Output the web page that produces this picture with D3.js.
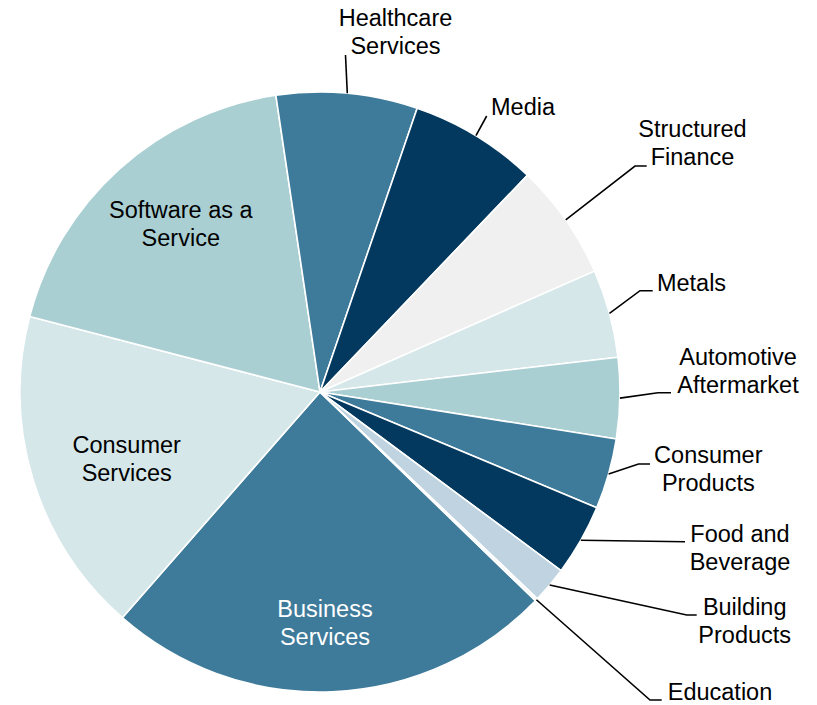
<!DOCTYPE html>
<html>
<head>
<meta charset="utf-8">
<script src="https://cdn.jsdelivr.net/npm/d3@7"></script>
<style>
  html, body { margin: 0; padding: 0; background: #fff; }
  svg { display: block; font-family: "Liberation Sans", Arial, sans-serif; }
</style>
</head>
<body>
<svg id="chart"></svg>
<script>
// sectors, in the order they run clockwise from the start angle
const sectors = [
  "Business Services", "Consumer Services", "Software as a Service",
  "Healthcare Services", "Media", "Structured Finance", "Metals",
  "Automotive Aftermarket", "Consumer Products", "Food and Beverage",
  "Building Products", "Education"
];
const shares = [24.2, 17.6, 18.6, 7.6, 6.9, 6.25, 4.75, 4.35, 3.8, 3.85, 1.95, 0.15];

const palette = [
  "#3E7A99", "#D5E7E9", "#AACFD3", "#3E7A99", "#03395E", "#F0F0F0",
  "#D5E7E9", "#AACFD3", "#3E7A99", "#03395E", "#BFD4E0", "#F4F7F9"
];

// label layout: inside labels have no leader; outside ones have an elbow
const labelLayout = {
  "Business Services":     { x: 325, y: 616.7, inside: true, fill: "#fff" },
  "Consumer Services":     { x: 126.7, y: 453.3, inside: true },
  "Software as a Service": { x: 180.8, y: 218.3, inside: true, lines: ["Software as a", "Service"] },
  "Healthcare Services":   { x: 395.5, y: 26, end: [345.5, 55] },
  "Media":                 { x: 523, y: 115, end: [486.7, 116] },
  "Structured Finance":    { x: 692.5, y: 136.7, elbow: [635, 166], end: [646.7, 166] },
  "Metals":                { x: 691.5, y: 290.7, elbow: [640, 290.7], end: [652.7, 290.7] },
  "Automotive Aftermarket":{ x: 738, y: 365, elbow: [658, 392.7], end: [671, 392.7] },
  "Consumer Products":     { x: 708.3, y: 463.3, elbow: [638.5, 464], end: [650, 464] },
  "Food and Beverage":     { x: 740, y: 541.7, end: [685, 541.7], lines: ["Food and", "Beverage"] },
  "Building Products":     { x: 744.7, y: 615, elbow: [686.7, 615], end: [696.7, 615] },
  "Education":             { x: 720, y: 700, elbow: [650, 700], end: [661.7, 700] }
};

const width = 817, height = 705;
const cx = 320, cy = 392, radius = 300;
const lineHeight = 28;

const data = sectors.map((name, i) => ({ name, value: shares[i], color: palette[i] }));

const svg = d3.select("#chart").attr("width", width).attr("height", height);

const start = 134.1 * Math.PI / 180;
const pie = d3.pie().sort(null).value(d => d.value)
  .startAngle(start).endAngle(start + 2 * Math.PI);
const arcs = pie(data);

const arc = d3.arc().innerRadius(0).outerRadius(radius);
const edge = d3.arc().innerRadius(radius).outerRadius(radius);

const g = svg.append("g").attr("transform", `translate(${cx}, ${cy})`);

g.selectAll("path.slice")
  .data(arcs)
  .join("path")
  .attr("class", "slice")
  .attr("d", arc)
  .attr("fill", d => d.data.color)
  .attr("stroke", "#fff")
  .attr("stroke-width", 1.6)
  .attr("stroke-linejoin", "round");

// leader lines
const leaders = arcs.filter(d => !labelLayout[d.data.name].inside);
svg.append("g")
  .selectAll("polyline")
  .data(leaders)
  .join("polyline")
  .attr("points", d => {
    const l = labelLayout[d.data.name];
    const [sx, sy] = edge.centroid(d);
    const pts = [[cx + sx, cy + sy]];
    if (l.elbow) pts.push(l.elbow);
    pts.push(l.end);
    return pts.map(p => p.join(",")).join(" ");
  })
  .attr("fill", "none")
  .attr("stroke", "#000")
  .attr("stroke-width", 1.6);

// labels
const labels = svg.append("g")
  .selectAll("text")
  .data(arcs)
  .join("text")
  .attr("text-anchor", "middle")
  .attr("font-size", 23.5)
  .attr("fill", d => labelLayout[d.data.name].fill || "#000");

labels.each(function (d) {
  const l = labelLayout[d.data.name];
  const parts = l.lines || (d.data.name.includes(" ")
    ? [d.data.name.split(" ")[0], d.data.name.split(" ").slice(1).join(" ")]
    : [d.data.name]);
  d3.select(this).selectAll("tspan")
    .data(parts)
    .join("tspan")
    .attr("x", l.x)
    .attr("y", (p, i) => l.y + i * lineHeight)
    .text(p => p);
});
</script>
</body>
</html>
